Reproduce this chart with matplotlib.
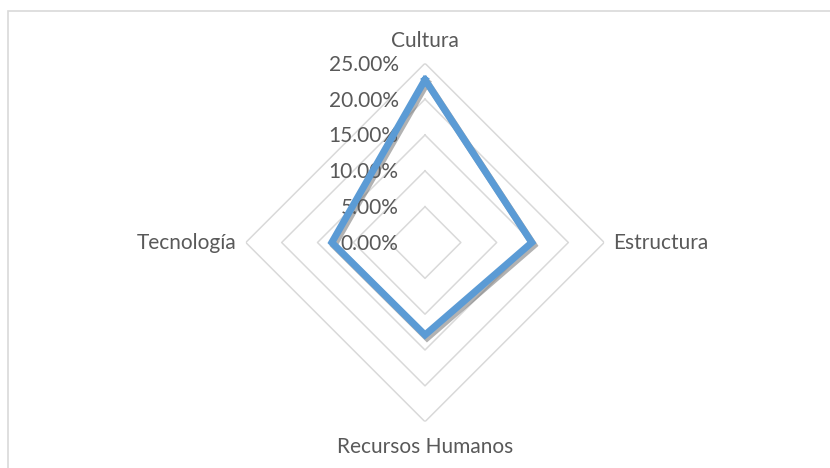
import numpy as np
import matplotlib.pyplot as plt
import matplotlib.patheffects as pe
from matplotlib.patches import Rectangle

# data
categories = ['Cultura', 'Estructura', 'Recursos Humanos', 'Tecnología']
values = [0.227, 0.149, 0.129, 0.130]
ticks = [0.0, 0.05, 0.10, 0.15, 0.20, 0.25]

W, H = 830, 468
cx, cy, rad = 425, 242.5, 179.2

plt.rcParams['font.family'] = ['Lato', 'DejaVu Sans']
txt = '#595959'
fs = 15

fig = plt.figure(figsize=(W / 100, H / 100), dpi=100)
ax = fig.add_axes([(cx - rad) / W, (H - cy - rad) / H, 2 * rad / W, 2 * rad / H],
                  projection='polar')
ax.set_theta_zero_location('N')
ax.set_theta_direction(-1)
ax.set_ylim(0, ticks[-1])
ax.grid(False)
ax.spines['polar'].set_visible(False)
ax.set_xticks([])
ax.set_yticks([])
ax.patch.set_visible(False)

angles = np.linspace(0, 2 * np.pi, len(categories), endpoint=False)
closed = np.append(angles, angles[0])

# diamond gridlines
for t in ticks[1:]:
    ax.plot(closed, [t] * len(closed), color='#d9d9d9', lw=1.1, zorder=1)

# radial tick labels
for t in ticks:
    ax.annotate(f'{t * 100:.2f}%', xy=(0, t), xytext=(-19, -1), textcoords='offset points',
                ha='right', va='center', fontsize=fs, color=txt)

# category labels (offsets in points)
offs = [(0, 11.5, 'center'), (6.5, -5, 'left'),
        (0, -22.5, 'center'), (-6.5, -5, 'right')]
for a, name, (dx, dy, ha) in zip(angles, categories, offs):
    ax.annotate(name, xy=(a, ticks[-1]), xytext=(dx, dy), textcoords='offset points',
                ha=ha, va='baseline', fontsize=fs, color=txt, annotation_clip=False)

# series
vals = values + values[:1]
ax.plot(closed, vals, color='#5b9bd5', lw=5, solid_joinstyle='miter', zorder=3,
        path_effects=[pe.SimpleLineShadow(offset=(1.5, -2), shadow_color='#555555', alpha=0.45),
                      pe.Normal()])

# chart area border
fig.patches.append(Rectangle((8 / W, -0.1), 1.2, (H - 11) / H + 0.1, transform=fig.transFigure,
                             fill=False, edgecolor='#d9d9d9', lw=1.2))

fig.savefig('out.png', dpi=100)
